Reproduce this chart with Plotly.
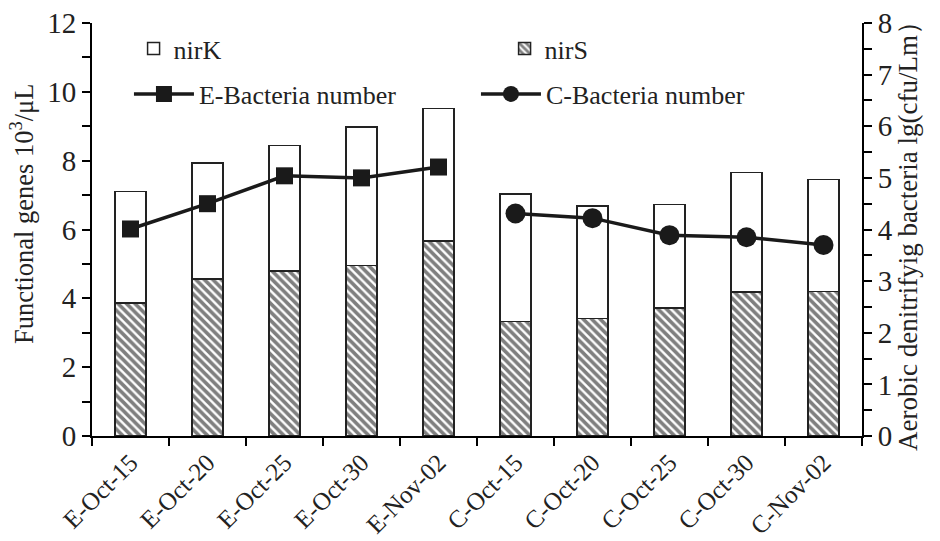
import plotly.graph_objects as go

categories = ["E-Oct-15", "E-Oct-20", "E-Oct-25", "E-Oct-30", "E-Nov-02",
              "C-Oct-15", "C-Oct-20", "C-Oct-25", "C-Oct-30", "C-Nov-02"]
nirS = [3.86, 4.56, 4.79, 4.95, 5.67, 3.33, 3.42, 3.72, 4.18, 4.20]
total = [7.10, 7.93, 8.44, 8.98, 9.52, 7.03, 6.69, 6.72, 7.65, 7.45]
nirK = [round(t - s, 2) for t, s in zip(total, nirS)]
e_cats = categories[:5]
e_bact = [4.01, 4.50, 5.04, 5.00, 5.21]
c_cats = categories[5:]
c_bact = [4.31, 4.22, 3.89, 3.85, 3.70]
left_title = "Functional genes 10<sup>3</sup>/μL"
right_title = "Aerobic denitrifyig bacteria lg(cfu/Lm）"

FONT = "Liberation Serif, Times New Roman, serif"
TXT = "#222"
fig = go.Figure()
fig.add_trace(go.Bar(
    x=categories, y=nirS, name="nirS", legend="legend", legendrank=2,
    marker=dict(color="white", line=dict(color="#222", width=1.5),
                pattern=dict(shape="\\", fgcolor="black", bgcolor="white", size=6, solidity=0.6)),
))
fig.add_trace(go.Bar(
    x=categories, y=nirK, name="nirK", legend="legend", legendrank=1,
    marker=dict(color="white", line=dict(color="#222", width=1.5)),
))
fig.add_trace(go.Scatter(
    x=e_cats, y=e_bact, name="E-Bacteria number", yaxis="y2", legend="legend2", legendrank=3,
    mode="lines+markers", line=dict(color="#1a1a1a", width=3.5),
    marker=dict(symbol="square", size=17, color="#1a1a1a"),
))
fig.add_trace(go.Scatter(
    x=c_cats, y=c_bact, name="C-Bacteria number", yaxis="y2", legend="legend2", legendrank=4,
    mode="lines+markers", line=dict(color="#1a1a1a", width=3.5),
    marker=dict(symbol="circle", size=20, color="#1a1a1a"),
))

axis_common = dict(showgrid=False, zeroline=False, showline=True, linecolor="black",
                   linewidth=2, ticks="outside", tickcolor="black", tickwidth=2,
                   automargin=False)
fig.update_layout(
    width=940, height=541,
    margin=dict(l=92, r=78, t=23, b=105),
    plot_bgcolor="white", paper_bgcolor="white",
    barmode="stack", bargap=0.6,
    font=dict(family=FONT, color=TXT),
    xaxis=dict(**axis_common, tickfont=dict(family=FONT, size=25, color=TXT),
               tickangle=-45, tickson="boundaries", ticklen=8, range=[-0.5, 9.5]),
    yaxis=dict(**axis_common, range=[0, 12], dtick=2, ticklen=8,
               tickfont=dict(family=FONT, size=29, color=TXT),
               minor=dict(dtick=1, ticks="outside", ticklen=8, tickcolor="black", tickwidth=2)),
    yaxis2=dict(**axis_common, overlaying="y", side="right", range=[0, 8], dtick=1, ticklen=8,
                tickfont=dict(family=FONT, size=29, color=TXT),
                minor=dict(dtick=0.5, ticks="outside", ticklen=8, tickcolor="black", tickwidth=2),
                title=dict(text=right_title,
                           font=dict(family=FONT, size=27, color=TXT), standoff=6)),
    legend=dict(orientation="h", x=0.054, y=0.995, xanchor="left", yanchor="top",
                entrywidth=326, entrywidthmode="pixels", bgcolor="rgba(0,0,0,0)",
                font=dict(family=FONT, size=26, color=TXT), traceorder="normal"),
    legend2=dict(orientation="h", x=0.048, y=0.885, xanchor="left", yanchor="top",
                 entrywidth=272, entrywidthmode="pixels", bgcolor="rgba(0,0,0,0)",
                 itemwidth=60,
                 font=dict(family=FONT, size=26, color=TXT), traceorder="normal"),
    showlegend=True,
    annotations=[dict(text=left_title, xref="paper", yref="paper",
                      x=-0.091, y=0.5375, xanchor="center", yanchor="middle",
                      textangle=-90, showarrow=False,
                      font=dict(family=FONT, size=26.5, color=TXT))],
)
fig.write_html("out.html")
